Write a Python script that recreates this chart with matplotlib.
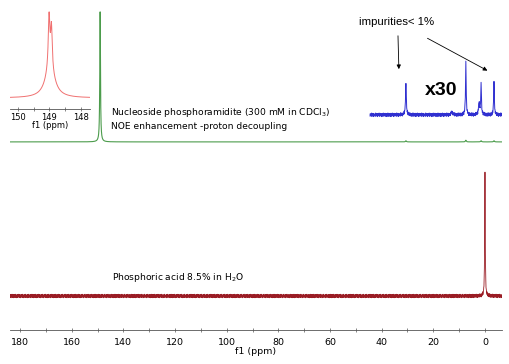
import numpy as np
import matplotlib.pyplot as plt

# ── Data ─────────────────────────────────────────────────────────────────────
# peaks: (position ppm, height, half-width ppm) in plot units
green_peaks = [(149.0, 39.4, 0.15), (30.6, 0.35, 0.2), (7.4, 0.5, 0.2),
               (1.5, 0.35, 0.2), (-3.5, 0.35, 0.2)]
green_base = 57.0

red_peaks = [(0.0, 38.0, 0.12)]
red_base = 10.3

blue_peaks = [(30.6, 9.7, 0.18), (12.8, 1.0, 0.3), (7.4, 15.8, 0.15),
              (2.3, 3.5, 0.25), (1.5, 9.7, 0.15), (-3.5, 10.3, 0.15)]
blue_base = 65.2
blue_range = (44.5, -6.6)

inset_peaks = [(149.01, 0.50, 0.03), (148.935, 0.40, 0.03), (148.98, 0.28, 0.18)]
inset_base = 0.106

# hand-typed baseline noise pattern
noise = [0.3, -0.4, 0.1, 0.5, -0.2, -0.6, 0.2, 0.4, -0.1, -0.3, 0.6, 0.0, -0.5,
         0.3, 0.2, -0.4, 0.5, -0.1, -0.6, 0.1, 0.4, -0.3, 0.0, 0.5, -0.5, 0.2,
         -0.2, 0.6, -0.4, 0.1, 0.3, -0.6, 0.4, -0.1, 0.2, -0.3, 0.5, -0.5, 0.0,
         0.3, -0.2, 0.4, -0.4, 0.6, -0.1, 0.1, -0.5, 0.2, 0.5, -0.3, 0.0, -0.6,
         0.4, 0.1, -0.2, 0.3, -0.4, 0.5, -0.1, 0.2, -0.5, 0.6, -0.3, 0.1, 0.0,
         -0.2, 0.4, -0.6, 0.3, 0.2, -0.4, 0.1, 0.5, -0.3, -0.1, 0.6, -0.5, 0.2,
         0.0, -0.2, 0.3, -0.4, 0.4, 0.1, -0.6, 0.5, -0.1, 0.2, -0.3, 0.3, 0.6,
         -0.5, 0.0, 0.1, -0.2, 0.4, -0.4]

main_ticks = [180, 160, 140, 120, 100, 80, 60, 40, 20, 0]
inset_ticks = [150, 149, 148]


def spectrum(x, peaks, base):
    y = np.full_like(x, base)
    for pos, h, w in peaks:
        y += h * w**2 / ((x - pos)**2 + w**2)
    return y


# ── Figure ───────────────────────────────────────────────────────────────────
W, H = 509, 364
fig = plt.figure(figsize=(W / 100, H / 100), dpi=100)
ax = fig.add_axes([10 / W, (H - 330) / H, 492 / W, 330 / H])
ax.set_xlim(183.9, -6.6)
ax.set_ylim(0, 100)

# green trace (dense grid so the sharp peak top is reached)
xg = np.linspace(183.9, -6.6, 7621)
ax.plot(xg, spectrum(xg, green_peaks, green_base), color='#4c9c4c', lw=0.8)

x = np.linspace(183.9, -6.6, 2401)
nz = np.resize(np.array(noise), x.size)
ax.plot(x, spectrum(x, red_peaks, red_base) + nz * 0.9, color='#9a1c24', lw=0.6)

xb = np.linspace(blue_range[0], blue_range[1], 512)
nzb = np.resize(np.array(noise[::-1]), xb.size)
ax.plot(xb, spectrum(xb, blue_peaks, blue_base) + nzb * 0.9, color='#3030d0', lw=0.7)

ax.text(144.8, 67.8, 'Nucleoside phosphoramidite (300 mM in CDCl$_3$)\nNOE enhancement -proton decoupling',
        fontsize=6.6, va='top', ha='left', linespacing=1.35)
ax.text(144.4, 16.0, 'Phosphoric acid 8.5% in H$_2$O', fontsize=6.6, va='center', ha='left')
ax.text(48.8, 93.3, 'impurities< 1%', fontsize=8.2, family='Liberation Sans', va='center', ha='left')
ax.text(17.0, 72.7, 'x30', fontsize=14, family='Liberation Sans', fontweight='bold',
        va='center', ha='center')
arrow = dict(arrowstyle='-|>', color='black', lw=0.6, mutation_scale=6)
ax.annotate('', xy=(33.3, 78.2), xytext=(33.7, 90.0), arrowprops=arrow)
ax.annotate('', xy=(-1.9, 78.2), xytext=(23.2, 88.8), arrowprops=arrow)

for s in ['top', 'left', 'right']:
    ax.spines[s].set_visible(False)
ax.spines['bottom'].set_color('#555555')
ax.spines['bottom'].set_linewidth(0.6)
ax.set_yticks([])
ax.set_xticks(main_ticks)
ax.set_xticks(np.arange(170, -10, -20), minor=True)
ax.tick_params(axis='x', which='both', direction='inout', length=3, width=0.5,
               color='#555555', labelsize=6.8, pad=4)
ax.set_xlabel('f1 (ppm)', fontsize=6.8, labelpad=0)

# ── Inset (zoom on the 149 ppm peak) ─────────────────────────────────────────
axi = fig.add_axes([10 / W, (H - 109) / H, 80 / W, 104 / H])
xi = np.linspace(150.25, 147.71, 800)
axi.plot(xi, spectrum(xi, inset_peaks, inset_base), color='#f07070', lw=0.7)
axi.set_xlim(150.25, 147.71)
axi.set_ylim(0, 1)
for s in ['top', 'left', 'right']:
    axi.spines[s].set_visible(False)
axi.spines['bottom'].set_color('#555555')
axi.spines['bottom'].set_linewidth(0.6)
axi.patch.set_alpha(0)
axi.set_yticks([])
axi.set_xticks(inset_ticks)
axi.set_xticks([149.5, 148.5], minor=True)
axi.tick_params(axis='x', which='both', direction='inout', length=3, width=0.5,
                color='#555555', labelsize=6.0, pad=1.5)
axi.set_xlabel('f1 (ppm)', fontsize=6.0, labelpad=-1)

fig.savefig('out.png', dpi=100)
